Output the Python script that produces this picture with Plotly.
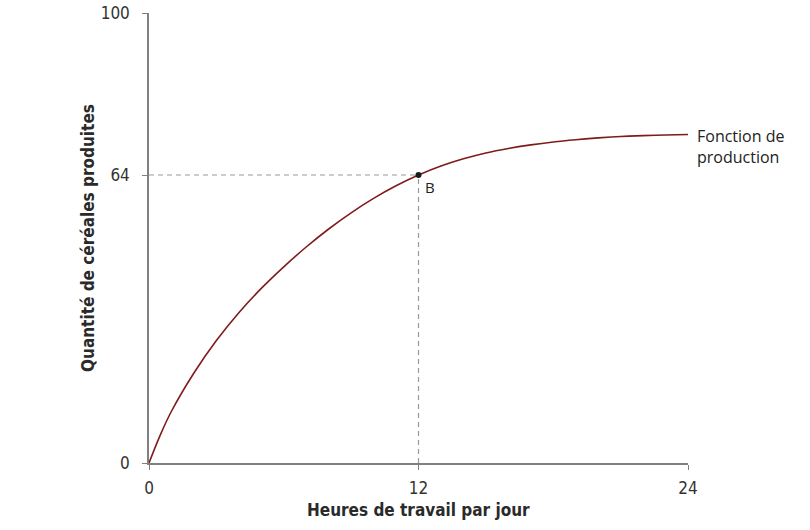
import plotly.graph_objects as go

hours = [0, 0.5, 1, 2, 3, 4, 5, 6, 7, 8, 9, 10, 11, 12,
         13, 14, 15, 16, 17, 18, 19, 20, 21, 22, 23, 24]
output = [0, 6.2, 11.5, 20, 27.2, 33.4, 38.8, 43.6, 48.0, 52.0, 55.6, 58.8, 61.6, 64,
          66.0, 67.6, 68.9, 69.9, 70.7, 71.35, 71.85, 72.25, 72.55, 72.75, 72.9, 73.0]
point_b = (12, 64)
x_ticks = [0, 12, 24]
y_ticks = [0, 64, 100]

curve_color = "#7e1c1c"
axis_color = "#808080"
cond = "DejaVu Sans Condensed, sans-serif"
tick_font = dict(family=cond, size=17, color="#333")
title_font = dict(family=cond, size=17, color="#2a2a2a", weight="bold")

fig = go.Figure()
fig.add_trace(go.Scatter(x=[0, point_b[0]], y=[point_b[1], point_b[1]], mode="lines",
                         line=dict(color="#999", width=1.2, dash="5px,4px"), hoverinfo="skip"))
fig.add_trace(go.Scatter(x=[point_b[0], point_b[0]], y=[0, point_b[1]], mode="lines",
                         line=dict(color="#999", width=1.2, dash="5px,4px"), hoverinfo="skip"))
fig.add_trace(go.Scatter(x=hours, y=output, mode="lines",
                         line=dict(color=curve_color, width=1.6, shape="spline", smoothing=1.0)))
fig.add_trace(go.Scatter(x=[point_b[0]], y=[point_b[1]], mode="markers", marker=dict(color="#1a1a1a", size=6)))

fig.add_annotation(x=point_b[0], y=point_b[1], xref="x", yref="y", text="B", showarrow=False,
                   xanchor="left", yanchor="top", xshift=4, yshift=0,
                   font=dict(family="Open Sans, sans-serif", size=15, color="#222"))
fig.add_annotation(x=hours[-1], y=output[-1], xref="x", yref="y", text="Fonction de<br>production",
                   showarrow=False, xanchor="left", yanchor="top", xshift=7, yshift=12, align="left",
                   font=dict(family="Open Sans, sans-serif", size=16, color="#222"))

fig.add_annotation(x=0.5, y=0, xref="paper", yref="paper", text="Heures de travail par jour",
                   showarrow=False, xanchor="center", yanchor="middle", yshift=-47, font=title_font)
fig.add_annotation(x=0, y=0.5, xref="paper", yref="paper", text="Quantité de céréales produites",
                   showarrow=False, xanchor="center", yanchor="middle", xshift=-61, textangle=-90,
                   font=title_font)

fig.update_layout(
    width=810, height=530, plot_bgcolor="white", paper_bgcolor="white", showlegend=False,
    margin=dict(l=149, r=122, t=13, b=67),
    xaxis=dict(range=[0, 24], tickvals=x_ticks, showgrid=False, zeroline=False, showline=True,
               linecolor=axis_color, linewidth=1.5, ticks="outside", ticklen=5, tickcolor=axis_color,
               tickfont=tick_font, automargin=False, ticklabeloverflow="allow", ticklabelstandoff=4),
    yaxis=dict(range=[0, 100], tickvals=y_ticks, showgrid=False, zeroline=False, showline=True,
               linecolor=axis_color, linewidth=1.5, ticks="outside", ticklen=5, tickcolor=axis_color,
               tickfont=tick_font, automargin=False, ticklabelstandoff=9, ticklabeloverflow="allow"),
)
fig.write_html("out.html", config={"displayModeBar": False},
               post_script="document.body.style.margin='0';")
